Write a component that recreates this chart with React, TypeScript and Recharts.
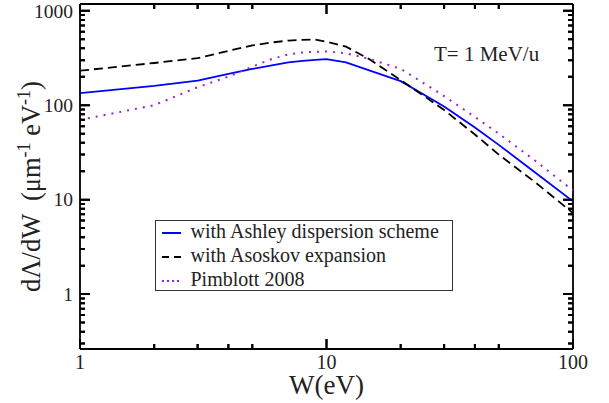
import { Line, LineChart, ReferenceLine, XAxis, YAxis } from "recharts";

const SERIF = '"Liberation Serif", "Times New Roman", serif';

// energy transfer W (eV)
const W = [1, 2, 3, 4, 5, 6, 7, 8, 9, 10, 12, 15, 20, 30, 40, 50, 70, 100];
// dΛ/dW (µm^-1 eV^-1)
const ashley = [134, 160, 182, 215, 242, 264, 284, 295, 302, 308, 284, 232, 180, 97, 58, 38, 19.5, 9.6];
const asoskov = [232, 280, 315, 376, 430, 462, 483, 492, 495, 470, 417, 305, 185, 89, 49, 30, 15.4, 7.2];
const pimblott = [70, 100, 155, 201, 256, 309, 345, 362, 369, 370, 355, 308, 243, 125, 75, 50, 26, 12.5];

const X_LABELS = [1, 10, 100];
const X_MINOR = [2, 3, 4, 5, 20, 30, 40, 50];
const Y_LABELS = [1, 10, 100, 1000];
const Y_MINOR = [
  0.3, 0.4, 0.5, 0.6, 0.7, 0.8, 0.9,
  2, 3, 4, 5, 6, 7, 8, 9,
  20, 30, 40, 50, 60, 70, 80, 90,
  200, 300, 400, 500, 600, 700, 800, 900,
];
const X_DOMAIN = [1, 100];
const Y_DOMAIN = [0.262, 1180];

const CHART_W = 609;
const CHART_H = 403;
const MARGIN = { top: 4, right: 36, bottom: 0, left: 0 };
const Y_AXIS_W = 80;
const X_AXIS_H = 54;
const PLOT_W = CHART_W - MARGIN.left - MARGIN.right - Y_AXIS_W;
const PLOT_H = CHART_H - MARGIN.top - MARGIN.bottom - X_AXIS_H;
const MAJOR = new Set([...X_LABELS, ...Y_LABELS]);

const data = W.map((w, i) => ({
  w,
  ashley: ashley[i],
  asoskov: asoskov[i],
  pimblott: pimblott[i],
}));

const SERIES = [
  {
    key: "ashley",
    name: "with Ashley dispersion scheme",
    color: "#0000ff",
    dash: undefined,
    width: 1.8,
    sample: "#0000ff",
  },
  {
    key: "asoskov",
    name: "with Asoskov expansion",
    color: "#000000",
    dash: "9 5",
    width: 1.8,
    sample: "repeating-linear-gradient(90deg, #000 0 7px, transparent 7px 12px)",
  },
  {
    key: "pimblott",
    name: "Pimblott 2008",
    color: "#9a1fe0",
    dash: "2 6",
    width: 2,
    sample: "repeating-linear-gradient(90deg, #9a1fe0 0 2px, transparent 2px 5px)",
  },
];

// a reference line across the plot, dashed so only its two ends show: inward ticks on opposite sides
const tickDash = (span: number, len: number) => `${len} ${span - 2 * len} ${len} 0`;

// bottom ticks (mirrored on top), labels on decades only
function XTick(props: any) {
  const x = Number(props.x);
  const y = Number(props.y);
  const v = props.payload.value;
  const len = MAJOR.has(v) ? 10 : 5;
  const top = y - PLOT_H;
  return (
    <g>
      <path d={`M${x},${y}V${y - len}M${x},${top}V${top + len}`} stroke="#000" strokeWidth={2} fill="none" />
      {X_LABELS.includes(v) && (
        <text x={x} y={y + 19.5} textAnchor="middle" fontFamily={SERIF} fontSize={20} fill="#222">
          {v}
        </text>
      )}
    </g>
  );
}

// left ticks (mirrored on the right)
function YTick(props: any) {
  const x = Number(props.x);
  const y = Number(props.y);
  const v = props.payload.value;
  const len = MAJOR.has(v) ? 10 : 5;
  const right = x + PLOT_W;
  return (
    <g>
      <path d={`M${x},${y}H${x + len}M${right},${y}H${right - len}`} stroke="#000" strokeWidth={2} fill="none" />
      {Y_LABELS.includes(v) && (
        <text x={x - 7} y={y} dy="0.35em" textAnchor="end" fontFamily={SERIF} fontSize={19.5} fill="#222">
          {v}
        </text>
      )}
    </g>
  );
}

const textStyle = { position: "absolute" as const, fontFamily: SERIF, color: "#222", whiteSpace: "pre" as const };
const sup = { fontSize: 18, position: "relative" as const, top: -10 };

export default function App() {
  return (
    <div style={{ position: "absolute", left: 0, top: 0, width: CHART_W, height: CHART_H, background: "#fff" }}>
      <LineChart width={CHART_W} height={CHART_H} data={data} margin={MARGIN}>
        <XAxis
          dataKey="w"
          type="number"
          scale="log"
          domain={X_DOMAIN}
          allowDataOverflow
          ticks={[...X_LABELS, ...X_MINOR]}
          interval={0}
          height={X_AXIS_H}
          tickSize={0}
          tickMargin={0}
          stroke="#000"
          strokeWidth={1.8}
          tick={<XTick />}
        />
        <YAxis
          type="number"
          scale="log"
          domain={Y_DOMAIN}
          allowDataOverflow
          ticks={[...Y_LABELS, ...Y_MINOR]}
          interval={0}
          width={Y_AXIS_W}
          tickSize={0}
          tickMargin={0}
          stroke="#000"
          strokeWidth={1.8}
          tick={<YTick />}
        />
        {/* close the frame on top and right */}
        <ReferenceLine y={Y_DOMAIN[1]} stroke="#000" strokeWidth={1.8} />
        <ReferenceLine x={X_DOMAIN[1]} stroke="#000" strokeWidth={1.8} />
        {X_LABELS.map((v) => (
          <ReferenceLine key={`xM${v}`} x={v} stroke="#000" strokeWidth={2} strokeDasharray={tickDash(PLOT_H, 10)} />
        ))}
        {X_MINOR.map((v) => (
          <ReferenceLine key={`xm${v}`} x={v} stroke="#000" strokeWidth={2} strokeDasharray={tickDash(PLOT_H, 5)} />
        ))}
        {Y_LABELS.map((v) => (
          <ReferenceLine key={`yM${v}`} y={v} stroke="#000" strokeWidth={2} strokeDasharray={tickDash(PLOT_W, 10)} />
        ))}
        {Y_MINOR.map((v) => (
          <ReferenceLine key={`ym${v}`} y={v} stroke="#000" strokeWidth={2} strokeDasharray={tickDash(PLOT_W, 5)} />
        ))}
        {SERIES.map((s) => (
          <Line
            key={s.key}
            dataKey={s.key}
            name={s.name}
            type="linear"
            stroke={s.color}
            strokeWidth={s.width}
            strokeDasharray={s.dash}
            dot={false}
            isAnimationActive={false}
          />
        ))}
      </LineChart>

      {/* legend box */}
      <div
        style={{
          position: "absolute",
          left: 155,
          top: 220,
          width: 298,
          height: 71,
          boxSizing: "border-box",
          border: "1.5px solid #333",
          background: "#fff",
        }}
      >
        {SERIES.map((s, i) => (
          <div key={s.key} style={{ position: "absolute", left: 0, top: 0.2 + i * 24, height: 20, width: 290 }}>
            <div style={{ position: "absolute", left: 5.5, top: 10.8, width: 19, height: 2, background: s.sample }} />
            <div style={{ ...textStyle, left: 34.5, top: 0, fontSize: 20, lineHeight: "20px" }}>{s.name}</div>
          </div>
        ))}
      </div>

      {/* annotation and axis titles */}
      <div style={{ ...textStyle, left: 434, top: 44.4, fontSize: 21, lineHeight: "21px" }}>T= 1 MeV/u</div>
      <div style={{ ...textStyle, left: 226.5, top: 372.4, width: 200, textAlign: "center", fontSize: 27, lineHeight: "27px" }}>
        W(eV)
      </div>
      <div
        style={{
          ...textStyle,
          left: -118.7,
          top: 172.5,
          width: 300,
          height: 27,
          textAlign: "center",
          fontSize: 26.5,
          lineHeight: "27px",
          transform: "rotate(-90deg)",
        }}
      >
        dΛ/dW  (μm<span style={sup}>-1</span> eV<span style={sup}>-1</span>)
      </div>
    </div>
  );
}
